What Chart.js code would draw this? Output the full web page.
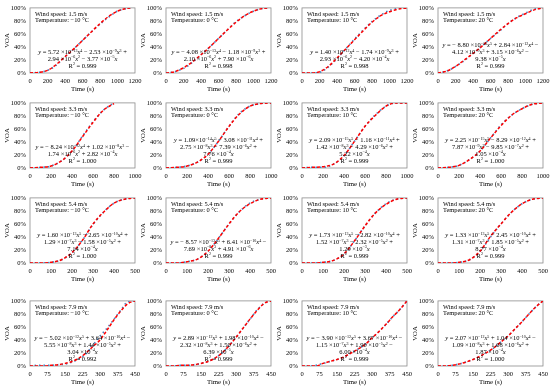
<!DOCTYPE html>
<html>
<head>
<meta charset="utf-8">
<script src="https://cdn.jsdelivr.net/npm/chart.js@4.4.1/dist/chart.umd.min.js"></script>
<style>
  html, body { margin: 0; padding: 0; background: #fff; overflow: hidden; }
  #wrap { position: relative; width: 550px; height: 387px; }
  #wrap canvas { position: absolute; }
</style>
</head>
<body>
<div id="wrap"></div>
<script>
// wind speeds (rows) and temperatures (columns)
const speeds = ['1.5', '3.3', '5.4', '7.9'];
const temps = ['\u221210', '0', '10', '20'];
const xMax = [1200, 1000, 500, 450];
const xStep = [200, 200, 100, 75];

// time points (s)
const t15a = [0, 100, 200, 300, 400, 500, 600, 700, 800, 900, 1000, 1100, 1150];
const t15b = [0, 100, 200, 300, 400, 500, 600, 700, 800, 900, 1000, 1100, 1180];
const t15c = [0, 100, 200, 300, 400, 500, 600, 700, 800, 900, 1000, 1100, 1200];
const t33a = [0, 100, 200, 300, 400, 500, 600, 700, 800];
const t33b = [0, 100, 200, 300, 400, 500, 600, 700, 800, 900, 1000];
const t54 = [0, 50, 100, 150, 200, 250, 300, 350, 400, 450, 500];
const t79 = [0, 30, 60, 90, 120, 150, 180, 210, 240, 270, 300, 330, 360, 390, 420, 450];

// measured VOA (%) and fitted curve (%)
const voa15n10 = [0, 1, 4, 12, 25, 37, 50, 63, 75, 86, 95, 99, 100];
const fit15n10 = [0, 1, 4, 13, 25, 37, 50, 63, 76, 87, 95, 99, 100];
const voa15p0 = [0, 2, 7, 16, 28, 40, 53, 66, 79, 88, 95, 99, 100];
const fit15p0 = [0, 2, 8, 17, 28, 40, 53, 66, 78, 88, 95, 99, 100];
const voa15p10 = [0, 0, 1, 9, 22, 37, 52, 66, 79, 89, 96, 99, 100];
const fit15p10 = [0, 0, 2, 10, 23, 37, 51, 65, 78, 88, 94, 98, 100];
const voa15p20 = [0, 3, 10, 19, 30, 41, 53, 64, 76, 85, 92, 98, 100];
const fit15p20 = [0, 3, 10, 20, 30, 41, 53, 65, 76, 85, 91, 97, 100];

const voa33n10 = [0, 1, 3, 11, 26, 49, 71, 89, 100];
const fit33n10 = [0, 1, 3, 11, 26, 48, 70, 89, 99];
const voa33p0 = [0, 1, 3, 9, 21, 41, 64, 84, 95, 99, 100];
const fit33p0 = [0, 1, 3, 9, 21, 41, 64, 83, 95, 99, 100];
const voa33p10 = [0, 1, 1, 6, 19, 41, 64, 82, 95, 100, 100];
const fit33p10 = [0, 1, 2, 6, 19, 41, 64, 81, 95, 100, 100];
const voa33p20 = [0, 1, 4, 13, 26, 46, 66, 81, 91, 98, 100];
const fit33p20 = [0, 1, 4, 13, 26, 46, 65, 81, 91, 98, 100];

const voa54n10 = [0, 0, 1, 5, 16, 35, 59, 78, 92, 98, 100];
const fit54n10 = [0, 0, 1, 5, 16, 35, 60, 78, 92, 98, 100];
const voa54p0 = [0, 0, 2, 6, 18, 38, 60, 79, 92, 98, 100];
const fit54p0 = [0, 0, 2, 6, 18, 38, 60, 79, 91, 98, 100];
const voa54p10 = [0, 0, 1, 4, 14, 34, 57, 77, 91, 98, 100];
const fit54p10 = [0, 0, 1, 4, 14, 34, 57, 77, 90, 98, 100];
const voa54p20 = [0, 0, 1, 5, 18, 40, 60, 78, 91, 98, 100];
const fit54p20 = [0, 0, 1, 5, 18, 41, 60, 78, 91, 98, 100];

const voa79n10 = [0, 1, 1, 1, 2, 3, 6, 11, 19, 32, 46, 58, 72, 86, 99, 100];
const fit79n10 = [0, 0, 0, 1, 2, 4, 7, 12, 20, 30, 40, 55, 71, 85, 96, 100];
const voa79p0 = [0, 0, 1, 1, 2, 4, 7, 12, 20, 31, 44, 58, 72, 86, 96, 100];
const fit79p0 = [0, 0, 1, 1, 2, 4, 7, 12, 20, 31, 44, 58, 72, 85, 96, 100];
const voa79p10 = [0, 0, 1, 4, 7, 10, 14, 20, 26, 33, 43, 53, 64, 76, 87, 100];
const fit79p10 = [0, 0, 0, 4, 7, 10, 14, 20, 26, 33, 43, 53, 64, 76, 87, 100];
const voa79p20 = [0, 0, 1, 3, 6, 10, 15, 21, 28, 37, 46, 57, 68, 80, 91, 100];
const fit79p20 = [0, 0, 1, 3, 6, 10, 15, 21, 28, 37, 46, 57, 68, 80, 91, 100];

// fitted equations ($..$ italic, ^{..} superscript)
const eqs = [
  ['$y$ = 5.72 \u00d710^{\u221213}$x$^{4} \u2212 2.53 \u00d710^{\u22129}$x$^{3} +', '2.94 \u00d710^{\u22126}$x$^{2} \u2212 3.77 \u00d710^{\u22125}$x$', 'R^{2} = 0.999'],
  ['$y$ = \u2212 4.08 \u00d710^{\u221213}$x$^{4} \u2212 1.18 \u00d710^{\u22129}$x$^{3} +', '2.10 \u00d710^{\u22126}$x$^{2} + 7.90 \u00d710^{\u22126}$x$', 'R^{2} = 0.998'],
  ['$y$ = 1.40 \u00d710^{\u221212}$x$^{4} \u2212 1.74 \u00d710^{\u22129}$x$^{3} +', '2.93 \u00d710^{\u22126}$x$^{2} \u2212 4.20 \u00d710^{\u22124}$x$', 'R^{2} = 0.998'],
  ['$y$ = \u2212 8.80 \u00d710^{\u221216}$x$^{5} + 2.84 \u00d710^{\u221212}$x$^{4} \u2212', '4.12 \u00d710^{\u22129}$x$^{3} + 3.15 \u00d710^{\u22126}$x$^{2} \u2212', '9.38 \u00d710^{\u22125}$x$', 'R^{2} = 0.999'],
  ['$y$ = \u2212 8.24 \u00d710^{\u221212}$x$^{4} + 1.02 \u00d710^{\u22128}$x$^{3} \u2212', '1.74 \u00d710^{\u22126}$x$^{2} + 2.82 \u00d710^{\u22124}$x$', 'R^{2} = 1.000'],
  ['$y$ = 1.09\u00d710^{\u221214}$x$^{5} \u2212 3.08 \u00d710^{\u221211}$x$^{4} +', '2.75 \u00d710^{\u22128}$x$^{3} \u2212 7.39 \u00d710^{\u22126}$x$^{2} +', '7.76 \u00d710^{\u22124}$x$', 'R^{2} = 0.999'],
  ['$y$ = 2.09 \u00d710^{\u221215}$x$^{5} \u2212 1.16 \u00d710^{\u221211}$x$^{4} +', '1.42 \u00d710^{\u22128}$x$^{3} \u2212 4.29 \u00d710^{\u22126}$x$^{2} +', '5.22 \u00d710^{\u22124}$x$', 'R^{2} = 0.999'],
  ['$y$ = 2.25 \u00d710^{\u221215}$x$^{5} \u2212 8.29 \u00d710^{\u221212}$x$^{4} +', '7.87 \u00d710^{\u22129}$x$^{3} \u2212 9.85 \u00d710^{\u22127}$x$^{2} +', '1.05 \u00d710^{\u22124}$x$', 'R^{2} = 1.000'],
  ['$y$ = 1.60 \u00d710^{\u221213}$x$^{5} \u2212 2.65 \u00d710^{\u221210}$x$^{4} +', '1.29 \u00d710^{\u22127}$x$^{3} \u2212 1.58 \u00d710^{\u22125}$x$^{2} +', '7.14 \u00d710^{\u22124}$x$', 'R^{2} = 1.000'],
  ['$y$ = \u2212 8.57 \u00d710^{\u221213}$x$^{5} + 6.41 \u00d710^{\u221210}$x$^{4} \u2212', '7.69 \u00d710^{\u22128}$x$^{3} + 4.91 \u00d710^{\u22126}$x$', 'R^{2} = 0.999'],
  ['$y$ = 1.73 \u00d710^{\u221213}$x$^{5} \u2212 2.82 \u00d710^{\u221210}$x$^{4} +', '1.52 \u00d710^{\u22127}$x$^{3} \u2212 2.32 \u00d710^{\u22125}$x$^{2} +', '1.29 \u00d710^{\u22123}$x$', 'R^{2} = 0.999'],
  ['$y$ = 1.33 \u00d710^{\u221213}$x$^{5} \u2212 2.45 \u00d710^{\u221210}$x$^{4} +', '1.31 \u00d710^{\u22127}$x$^{3} \u2212 1.85 \u00d710^{\u22125}$x$^{2} +', '8.77 \u00d710^{\u22124}$x$', 'R^{2} = 0.999'],
  ['$y$ = \u2212 5.02 \u00d710^{\u221212}$x$^{5} + 3.64 \u00d710^{\u221210}$x$^{4} \u2212', '5.55 \u00d710^{\u22128}$x$^{3} + 1.44 \u00d710^{\u22125}$x$^{2} +', '3.04 \u00d710^{\u22124}$x$', 'R^{2} = 0.992'],
  ['$y$ = 2.89 \u00d710^{\u221212}$x$^{5} + 1.98 \u00d710^{\u221210}$x$^{4} \u2212', '2.32 \u00d710^{\u22128}$x$^{3} + 1.50 \u00d710^{\u22126}$x$^{2} +', '6.39 \u00d710^{\u22125}$x$', 'R^{2} = 0.999'],
  ['$y$ = \u2212 3.90 \u00d710^{\u221212}$x$^{5} + 3.67 \u00d710^{\u221210}$x$^{4} \u2212', '1.15 \u00d710^{\u22127}$x$^{3} + 1.90 \u00d710^{\u22125}$x$^{2} \u2212', '6.00 \u00d710^{\u22124}$x$', 'R^{2} = 0.999'],
  ['$y$ = 2.07 \u00d710^{\u221212}$x$^{5} + 1.04 \u00d710^{\u221210}$x$^{4} \u2212', '1.09 \u00d710^{\u22128}$x$^{3} + 1.08 \u00d710^{\u22126}$x$^{2} +', '1.87 \u00d710^{\u22124}$x$', 'R^{2} = 1.000']
];

const times = [t15a, t15b, t15c, t15c, t33a, t33b, t33b, t33b, t54, t54, t54, t54, t79, t79, t79, t79];
const measured = [voa15n10, voa15p0, voa15p10, voa15p20, voa33n10, voa33p0, voa33p10, voa33p20,
                  voa54n10, voa54p0, voa54p10, voa54p20, voa79n10, voa79p0, voa79p10, voa79p20];
const fitted = [fit15n10, fit15p0, fit15p10, fit15p20, fit33n10, fit33p0, fit33p10, fit33p20,
                fit54n10, fit54p0, fit54p10, fit54p20, fit79n10, fit79p0, fit79p10, fit79p20];

const FONT = '"Liberation Serif", "Times New Roman", serif';
Chart.defaults.font.family = FONT;
Chart.defaults.color = '#000';

const rowTop = [0, 95, 190, 293];
const colLeft = [0, 136, 272, 408];

// draws a line with superscripts and italics, centred (or left aligned) at x
function drawRich(ctx, str, x, y, size, align) {
  const segs = str.split(/(\^\{[^}]*\}|\$[^$]*\$)/).filter(s => s).map(s => {
    if (s.startsWith('^{')) return { t: s.slice(2, -1), sup: true };
    if (s.startsWith('$')) return { t: s.slice(1, -1), it: true };
    return { t: s };
  });
  const fontOf = s => (s.it ? 'italic ' : '') + (s.sup ? size * 0.62 : size) + 'px ' + FONT;
  let w = 0;
  segs.forEach(s => { ctx.font = fontOf(s); s.w = ctx.measureText(s.t).width; w += s.w; });
  let cx = align === 'left' ? x : x - w / 2;
  ctx.textAlign = 'left';
  ctx.textBaseline = 'middle';
  segs.forEach(s => {
    ctx.font = fontOf(s);
    ctx.fillText(s.t, cx, s.sup ? y - size * 0.33 : y);
    cx += s.w;
  });
}

const wrap = document.getElementById('wrap');

for (let i = 0; i < 16; i++) {
  const r = Math.floor(i / 4), c = i % 4;
  const canvas = document.createElement('canvas');
  canvas.width = 150;
  canvas.height = 95;
  canvas.style.left = colLeft[c] + 'px';
  canvas.style.top = rowTop[r] + 'px';
  canvas.style.width = '150px';
  canvas.style.height = '95px';
  wrap.appendChild(canvas);

  const t = times[i];
  const eq = eqs[i];

  const frame = {
    id: 'frame' + i,
    beforeDatasetsDraw(chart) {
      const a = chart.chartArea, ctx = chart.ctx;
      ctx.save();
      ctx.strokeStyle = '#8c8c8c';
      ctx.lineWidth = 0.8;
      ctx.strokeRect(a.left, a.top, a.right - a.left, a.bottom - a.top);
      ctx.restore();
    },
    afterDatasetsDraw(chart) {
      const a = chart.chartArea, ctx = chart.ctx;
      ctx.save();
      ctx.fillStyle = '#000';
      drawRich(ctx, 'Wind speed: ' + speeds[r] + ' m/s', a.left + 5, a.top + 6, 6.4, 'left');
      drawRich(ctx, 'Temperature: ' + temps[c] + ' \u00b0C', a.left + 5, a.top + 12.8, 6.4, 'left');
      const cx = (a.left + a.right) / 2;
      const n = eq.length;
      eq.forEach((line, k) => {
        drawRich(ctx, line, cx, a.top + 58.5 - 6.9 * (n - 1 - k), 6.5, 'center');
      });
      ctx.restore();
    }
  };

  new Chart(canvas, {
    type: 'line',
    data: {
      datasets: [
        {
          data: fitted[i].map((v, k) => ({ x: t[k], y: v })),
          borderColor: '#ff0000',
          borderDash: [3, 2],
          borderWidth: 1.5,
          pointRadius: 0,
          cubicInterpolationMode: 'monotone',
          order: 0
        },
        {
          data: measured[i].map((v, k) => ({ x: t[k], y: v })),
          borderColor: '#4a7ebb',
          borderDash: [1.5, 3],
          borderWidth: 1.6,
          pointRadius: 0,
          cubicInterpolationMode: 'monotone',
          order: 1
        }
      ]
    },
    options: {
      responsive: false,
      animation: false,
      devicePixelRatio: 1,
      layout: { padding: { top: 6, right: 15, left: 0, bottom: 0 } },
      plugins: { legend: { display: false }, tooltip: { enabled: false } },
      scales: {
        x: {
          type: 'linear',
          min: 0,
          max: xMax[r],
          grid: { display: false, drawTicks: false },
          border: { display: false },
          ticks: { stepSize: xStep[r], font: { size: 6.5 }, padding: 4, maxRotation: 0, autoSkip: false, color: '#000', callback: v => String(v) },
          title: { display: true, text: 'Time (s)', font: { size: 6.8 }, padding: { top: 0, bottom: 1.5 } },
          afterFit(s) { s.height = 22; }
        },
        y: {
          min: 0,
          max: 100,
          grid: { display: false, drawTicks: false },
          border: { display: false },
          ticks: { stepSize: 20, font: { size: 6.5 }, padding: 4, color: '#000', callback: v => v + '%' },
          title: { display: true, text: 'VOA', font: { size: 6.8 }, padding: { top: 3, bottom: 0 } },
          afterFit(s) { s.width = 30; }
        }
      }
    },
    plugins: [frame]
  });
}
</script>
</body>
</html>
